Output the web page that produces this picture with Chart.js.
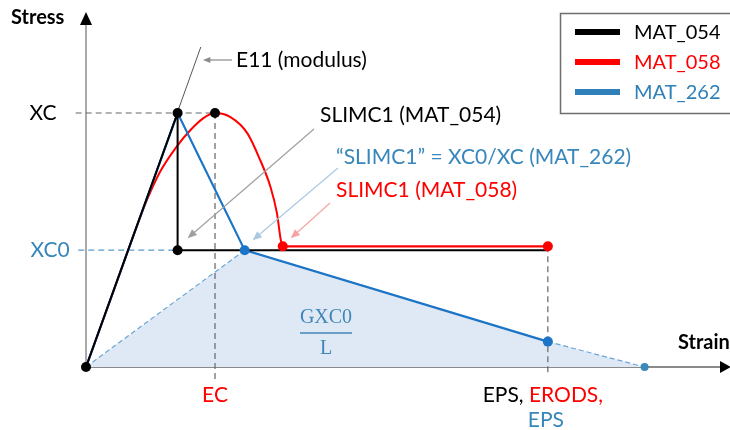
<!DOCTYPE html>
<html>
<head>
<meta charset="utf-8">
<script src="https://cdn.jsdelivr.net/npm/chart.js@4/dist/chart.umd.min.js"></script>
<style>
  body { margin: 0; background: #fff; }
  #wrap { width: 730px; height: 430px; }
</style>
</head>
<body>
<div id="wrap"><canvas id="myChart" width="730" height="430"></canvas></div>
<script>
// strain / stress values (normalised: XC = 1, EC = 1)
const mat054Strain = [0, 0.71, 0.71, 3.58];
const mat054Stress = [0, 1.0, 0.46, 0.46];

const mat058Strain = [0, 0.21, 0.42, 0.47, 0.57, 0.70, 0.81, 0.91, 1.0, 1.12, 1.25, 1.35, 1.43, 1.48, 1.51, 1.525];
const mat058Stress = [0, 0.295, 0.59, 0.655, 0.765, 0.866, 0.933, 0.98, 1.0, 0.984, 0.921, 0.815, 0.709, 0.606, 0.50, 0.475];
const mat058PlateauStrain = [1.525, 3.58];
const mat058PlateauStress = [0.475, 0.475];

const mat262Strain = [0, 0.71, 1.23, 3.58];
const mat262Stress = [0, 1.0, 0.46, 0.10];
const mat262TailStrain = [3.58, 4.33];
const mat262TailStress = [0.10, 0];
const gxcStrain = [0, 1.23, 3.58, 4.33];
const gxcStress = [0, 0.46, 0.10, 0];

const e11Strain = [0, 0.89];
const e11Stress = [0, 1.26];

const blackDotStrain = [0, 0.71, 0.71, 1.0];
const blackDotStress = [0, 1.0, 0.46, 1.0];
const redDotStrain = [1.525, 3.58];
const redDotStress = [0.475, 0.475];
const blueDotStrain = [1.23, 3.58];
const blueDotStress = [0.46, 0.10];
const blueEndStrain = [4.33];
const blueEndStress = [0];

const XC = 1.0, XC0 = 0.46, EC = 1.0, EPS = 3.58;

const legendNames = ['MAT_054', 'MAT_058', 'MAT_262'];
const legendColors = ['#000000', '#ff0000', '#2f80b8'];

const BLACK = '#000000', RED = '#ff0000', BLUE = '#1b74c5', BLUE_TXT = '#3787bb';
const FONT = 'Lato, "Open Sans", sans-serif';

function pts(xs, ys) { return xs.map((x, i) => ({ x: x, y: ys[i] })); }

function arrow(ctx, x1, y1, x2, y2, color, size) {
  const a = Math.atan2(y2 - y1, x2 - x1);
  ctx.save();
  ctx.strokeStyle = color; ctx.fillStyle = color; ctx.lineWidth = 1.2; ctx.setLineDash([]);
  ctx.beginPath(); ctx.moveTo(x1, y1);
  ctx.lineTo(x2 - Math.cos(a) * size * 0.8, y2 - Math.sin(a) * size * 0.8); ctx.stroke();
  ctx.beginPath(); ctx.moveTo(x2, y2);
  ctx.lineTo(x2 - size * Math.cos(a - 0.4), y2 - size * Math.sin(a - 0.4));
  ctx.lineTo(x2 - size * Math.cos(a + 0.4), y2 - size * Math.sin(a + 0.4));
  ctx.closePath(); ctx.fill();
  ctx.restore();
}

const axesPlugin = {
  id: 'axesPlugin',
  beforeDatasetsDraw(chart) {
    const ctx = chart.ctx, sx = chart.scales.x, sy = chart.scales.y;
    const x0 = sx.getPixelForValue(0), y0 = sy.getPixelForValue(0);
    const xEnd = sx.getPixelForValue(sx.max), yTop = sy.getPixelForValue(1.398);
    ctx.save();
    ctx.strokeStyle = '#8a8a8a'; ctx.lineWidth = 1.8;
    ctx.beginPath(); ctx.moveTo(x0, y0); ctx.lineTo(xEnd - 8, y0); ctx.stroke();
    ctx.strokeStyle = '#555'; ctx.lineWidth = 1;
    ctx.beginPath(); ctx.moveTo(x0, y0); ctx.lineTo(x0, yTop + 8); ctx.stroke();
    ctx.fillStyle = '#000';
    ctx.beginPath(); ctx.moveTo(xEnd + 1, y0); ctx.lineTo(xEnd - 10, y0 - 6); ctx.lineTo(xEnd - 10, y0 + 6); ctx.closePath(); ctx.fill();
    ctx.beginPath(); ctx.moveTo(x0, yTop); ctx.lineTo(x0 - 6, yTop + 13); ctx.lineTo(x0 + 6, yTop + 13); ctx.closePath(); ctx.fill();
    ctx.restore();
  },
  afterDraw(chart) {
    const ctx = chart.ctx, sx = chart.scales.x, sy = chart.scales.y;
    const px = v => sx.getPixelForValue(v), py = v => sy.getPixelForValue(v);
    ctx.save();
    ctx.textBaseline = 'middle';

    // axis titles
    ctx.font = 'bold 20px ' + FONT; ctx.fillStyle = '#000'; ctx.textAlign = 'left';
    ctx.fillText('Stress', 11, 18);
    ctx.fillText('Strain', 678, py(0) - 24);

    // stress / strain labels
    ctx.font = '21px ' + FONT; ctx.textAlign = 'center';
    ctx.fillStyle = '#000'; ctx.fillText('XC', 43, py(XC));
    ctx.fillStyle = BLUE_TXT; ctx.fillText('XC0', 50, py(XC0));
    ctx.fillStyle = RED; ctx.fillText('EC', px(EC), 395);
    const t1 = 'EPS, ', t2 = 'ERODS,';
    const w1 = ctx.measureText(t1).width, w2 = ctx.measureText(t2).width;
    const start = px(EPS) - 5 - (w1 + w2) / 2;
    ctx.textAlign = 'left';
    ctx.fillStyle = '#000'; ctx.fillText(t1, start, 395);
    ctx.fillStyle = RED; ctx.fillText(t2, start + w1, 395);
    ctx.textAlign = 'center'; ctx.fillStyle = BLUE_TXT; ctx.fillText('EPS', px(EPS) - 2, 420);

    // annotations
    ctx.textAlign = 'left';
    ctx.fillStyle = '#000'; ctx.fillText('E11 (modulus)', 236, 60);
    arrow(ctx, 232, 60, 203, 60, '#8a8a8a', 8);
    ctx.fillStyle = '#000'; ctx.fillText('SLIMC1 (MAT_054)', 320, 115);
    arrow(ctx, 314, 129, px(0.71) + 10, py(XC0) - 12, '#a0a0a0', 10);
    ctx.fillStyle = BLUE_TXT; ctx.fillText('\u201CSLIMC1\u201D = XC0/XC (MAT_262)', 336, 157);
    arrow(ctx, 338, 168, px(1.23) + 8, py(XC0) - 10, '#a9c9e3', 10);
    ctx.fillStyle = RED; ctx.fillText('SLIMC1 (MAT_058)', 336, 190);
    arrow(ctx, 330, 203, px(1.525) + 8, py(0.475) - 8, '#f5a3a3', 10);

    // GXC0 / L
    ctx.font = '20px "Liberation Serif", serif'; ctx.textAlign = 'center'; ctx.fillStyle = '#3f86b6';
    ctx.fillText('GXC0', 326, 318);
    ctx.fillText('L', 326, 349);
    ctx.strokeStyle = '#3f86b6'; ctx.lineWidth = 1.5;
    ctx.beginPath(); ctx.moveTo(300, 333); ctx.lineTo(352, 333); ctx.stroke();

    // legend
    ctx.strokeStyle = '#6e6e6e'; ctx.lineWidth = 1.5;
    ctx.strokeRect(560.5, 13.5, 185, 100);
    ctx.font = '20px ' + FONT; ctx.textAlign = 'left';
    legendNames.forEach((n, i) => {
      const y = 32 + i * 30;
      ctx.strokeStyle = legendColors[i]; ctx.lineWidth = 6;
      ctx.beginPath(); ctx.moveTo(575, y); ctx.lineTo(620, y); ctx.stroke();
      ctx.fillStyle = legendColors[i]; ctx.fillText(n, 634, y + 1);
    });
    ctx.restore();
  }
};

function dots(xs, ys, color, r, order) {
  return { data: pts(xs, ys), showLine: false, pointRadius: r, pointBackgroundColor: color,
           pointBorderColor: color, pointBorderWidth: 0, order: order };
}
function line(xs, ys, color, w, order, extra) {
  return Object.assign({ data: pts(xs, ys), showLine: true, borderColor: color, borderWidth: w,
           pointRadius: 0, fill: false, order: order }, extra || {});
}

const config = {
  type: 'scatter',
  data: {
    datasets: [
      dots(blackDotStrain, blackDotStress, BLACK, 5, 0),
      dots(redDotStrain, redDotStress, RED, 5, 0),
      dots(blueDotStrain, blueDotStress, BLUE, 5, 0),
      dots(blueEndStrain, blueEndStress, '#3a89bd', 4, 0),
      line(mat054Strain, mat054Stress, BLACK, 2, 1),
      line(mat262Strain, mat262Stress, BLUE, 2.2, 2),
      line(mat058Strain, mat058Stress, RED, 2, 3, { cubicInterpolationMode: 'monotone' }),
      line(mat058PlateauStrain, mat058PlateauStress, RED, 2.2, 3),
      line(e11Strain, e11Stress, '#555', 1, 4),
      line(mat262TailStrain, mat262TailStress, '#6aa6d6', 1.2, 5, { borderDash: [5, 3] }),
      line([0, blueDotStrain[0]], [0, XC0], '#6aa6d6', 1.2, 5, { borderDash: [5, 3] }),
      line([-0.08, EC], [XC, XC], '#666', 1.2, 6, { borderDash: [6, 4] }),
      line([-0.06, 0.71], [XC0, XC0], '#5a9ccc', 1.2, 6, { borderDash: [6, 4] }),
      line([EC, EC], [XC, -0.05], '#666', 1.2, 6, { borderDash: [6, 4] }),
      line([EPS, EPS], [0.475, -0.03], '#666', 1.2, 6, { borderDash: [6, 4] }),
      line(gxcStrain, gxcStress, 'rgba(0,0,0,0)', 0, 7, { fill: 'origin', backgroundColor: '#dfe9f5' })
    ]
  },
  options: {
    responsive: false,
    animation: false,
    layout: { padding: 0, autoPadding: false },
    plugins: { legend: { display: false }, tooltip: { enabled: false } },
    scales: {
      x: { type: 'linear', display: false, min: -0.6667, max: 4.992 },
      y: { type: 'linear', display: false, min: -0.248, max: 1.445 }
    }
  },
  plugins: [axesPlugin]
};

const myChart = new Chart(document.getElementById('myChart'), config);
</script>
</body>
</html>
